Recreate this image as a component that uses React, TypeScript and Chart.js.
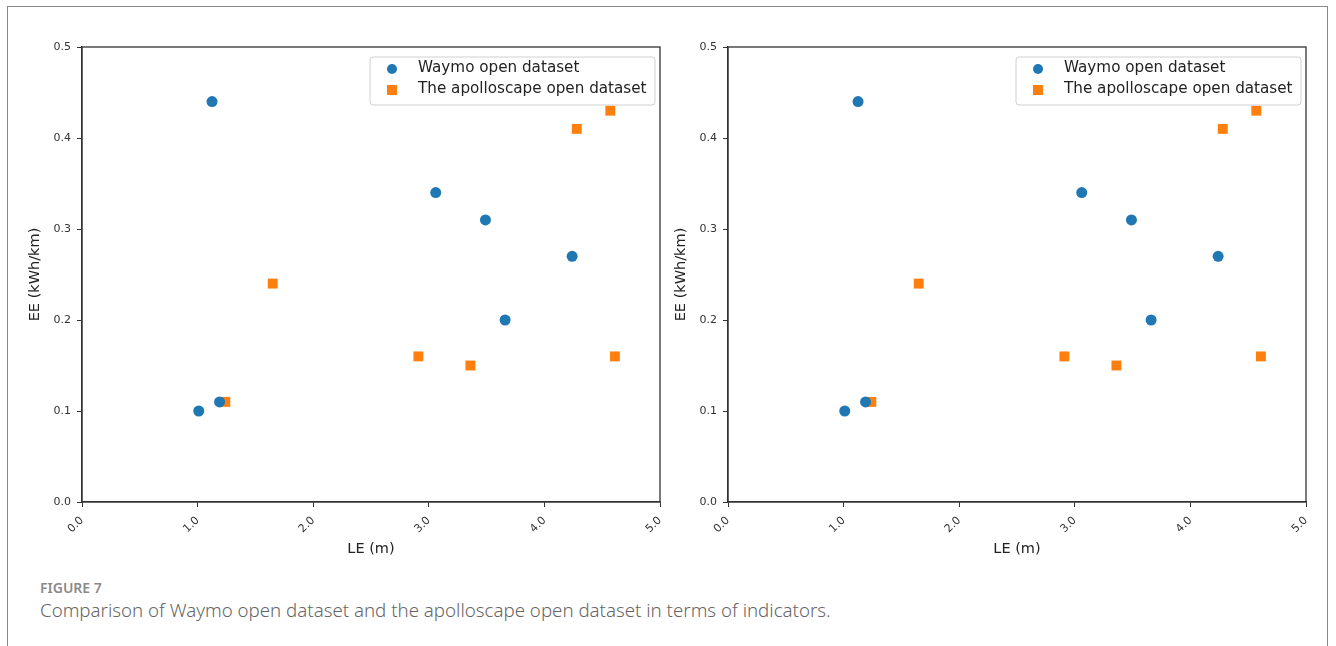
import React, { useEffect, useRef } from "react";
import { Chart, registerables } from "chart.js";

Chart.register(...registerables);

const waymoLE = [1.125, 1.01, 1.19, 3.06, 3.49, 4.24, 3.66];
const waymoEE = [0.44, 0.1, 0.11, 0.34, 0.31, 0.27, 0.2];
const apolloLE = [1.24, 1.65, 2.91, 3.36, 4.28, 4.57, 4.61];
const apolloEE = [0.11, 0.24, 0.16, 0.15, 0.41, 0.43, 0.16];
const seriesNames = ["Waymo open dataset", "The apolloscape open dataset"];
const xTicks = [0, 1, 2, 3, 4, 5];
const yTicks = [0, 0.1, 0.2, 0.3, 0.4, 0.5];

const BLUE = "#1f77b4";
const ORANGE = "#ff7f0e";
const FONT = "'DejaVu Sans', sans-serif";

const framePlugin = {
  id: "framePlugin",
  afterDraw(chart: any) {
    const { ctx, chartArea } = chart;
    const { left, right, top, bottom } = chartArea;
    ctx.save();
    ctx.strokeStyle = "#333";
    ctx.lineWidth = 1.3;
    ctx.strokeRect(left, top, right - left, bottom - top);

    // legend box inside top-right
    const bw = 285;
    const bh = 48;
    const bx = right - bw - 5;
    const by = top + 10;
    ctx.beginPath();
    const r = 3;
    ctx.moveTo(bx + r, by);
    ctx.lineTo(bx + bw - r, by);
    ctx.quadraticCurveTo(bx + bw, by, bx + bw, by + r);
    ctx.lineTo(bx + bw, by + bh - r);
    ctx.quadraticCurveTo(bx + bw, by + bh, bx + bw - r, by + bh);
    ctx.lineTo(bx + r, by + bh);
    ctx.quadraticCurveTo(bx, by + bh, bx, by + bh - r);
    ctx.lineTo(bx, by + r);
    ctx.quadraticCurveTo(bx, by, bx + r, by);
    ctx.closePath();
    ctx.fillStyle = "rgba(255,255,255,0.85)";
    ctx.fill();
    ctx.strokeStyle = "#d0d0d0";
    ctx.lineWidth = 1;
    ctx.stroke();

    const mx = bx + 22;
    const y1 = by + 12;
    const y2 = by + 33;
    ctx.fillStyle = BLUE;
    ctx.beginPath();
    ctx.arc(mx, y1, 5, 0, Math.PI * 2);
    ctx.fill();
    ctx.fillStyle = ORANGE;
    ctx.fillRect(mx - 5, y2 - 5, 10, 10);

    ctx.fillStyle = "#222";
    ctx.font = `15.2px ${FONT}`;
    ctx.textBaseline = "middle";
    ctx.textAlign = "left";
    ctx.fillText(seriesNames[0], bx + 48, y1 - 1);
    ctx.fillText(seriesNames[1], bx + 48, y2 - 1);
    ctx.restore();
  },
};

function ScatterPanel({ left }: { left: number }) {
  const ref = useRef<HTMLCanvasElement>(null);
  useEffect(() => {
    if (!ref.current) return;
    const chart = new Chart(ref.current, {
      type: "scatter",
      data: {
        datasets: [
          {
            label: seriesNames[0],
            data: waymoLE.map((x, i) => ({ x, y: waymoEE[i] })),
            backgroundColor: BLUE,
            borderColor: BLUE,
            pointStyle: "circle",
            pointRadius: 5.5,
            pointBorderWidth: 0,
          },
          {
            label: seriesNames[1],
            data: apolloLE.map((x, i) => ({ x, y: apolloEE[i] })),
            backgroundColor: ORANGE,
            borderColor: ORANGE,
            pointStyle: "rect",
            pointRadius: 7,
            pointBorderWidth: 0,
          },
        ],
      },
      options: {
        animation: false,
        responsive: false,
        layout: { padding: { left: 25, top: 47, right: 10, bottom: 8 } },
        plugins: {
          legend: { display: false },
          tooltip: { enabled: false },
        },
        scales: {
          x: {
            type: "linear",
            min: 0,
            max: 5,
            afterBuildTicks: (s: any) => {
              s.ticks = xTicks.map((v) => ({ value: v }));
            },
            afterFit: (s: any) => {
              s.height = 60;
              s.paddingLeft = 0;
              s.paddingRight = 0;
            },
            ticks: {
              minRotation: 45,
              maxRotation: 45,
              color: "#333",
              padding: 7,
              font: { family: FONT, size: 11 },
              callback: (v: any) => Number(v).toFixed(1),
            },
            grid: {
              drawOnChartArea: false,
              drawTicks: true,
              tickLength: 5,
              color: "#333",
            },
            border: { color: "#333", width: 1.3 },
            title: {
              display: true,
              text: "LE (m)",
              color: "#222",
              font: { family: FONT, size: 14.5 },
              padding: { top: 4, bottom: 4 },
            },
          },
          y: {
            type: "linear",
            min: 0,
            max: 0.5,
            afterBuildTicks: (s: any) => {
              s.ticks = yTicks.map((v) => ({ value: v }));
            },
            afterFit: (s: any) => {
              s.width = 57;
              s.paddingTop = 0;
              s.paddingBottom = 0;
            },
            ticks: {
              color: "#333",
              padding: 6,
              font: { family: FONT, size: 11 },
              callback: (v: any) => Number(v).toFixed(1),
            },
            grid: {
              drawOnChartArea: false,
              drawTicks: true,
              tickLength: 5,
              color: "#333",
            },
            border: { color: "#333", width: 1.3 },
            title: {
              display: true,
              text: "EE (kWh/km)",
              color: "#222",
              font: { family: FONT, size: 14.5 },
              padding: { top: 2, bottom: 4 },
            },
          },
        },
      },
      plugins: [framePlugin],
    } as any);
    return () => chart.destroy();
  }, []);
  return (
    <canvas
      ref={ref}
      width={670}
      height={570}
      style={{ position: "absolute", left, top: 0, width: 670, height: 570 }}
    />
  );
}

export default function App() {
  return (
    <div
      style={{
        position: "fixed",
        left: 0,
        top: 0,
        width: 1336,
        height: 646,
        background: "#fff",
        overflow: "hidden",
      }}
    >
      <div
        style={{
          position: "absolute",
          left: 7,
          top: 6,
          width: 1319,
          height: 700,
          borderLeft: "1.5px solid #8a8a8a",
          borderTop: "1.5px solid #8a8a8a",
          borderRight: "1.5px solid #8a8a8a",
        }}
      />
      <ScatterPanel left={0} />
      <ScatterPanel left={646} />
      <div
        style={{
          position: "absolute",
          left: 40,
          top: 578,
          fontFamily: "'Noto Sans', sans-serif",
          fontSize: 14,
          fontWeight: 600,
          color: "#8a8a8a",
        }}
      >
        FIGURE 7
      </div>
      <div
        style={{
          position: "absolute",
          left: 40,
          top: 597,
          fontFamily: "'Noto Sans', sans-serif",
          fontSize: 18.7,
          fontWeight: 300,
          color: "#666",
          whiteSpace: "nowrap",
        }}
      >
        Comparison of Waymo open dataset and the apolloscape open dataset in terms of indicators.
      </div>
    </div>
  );
}
